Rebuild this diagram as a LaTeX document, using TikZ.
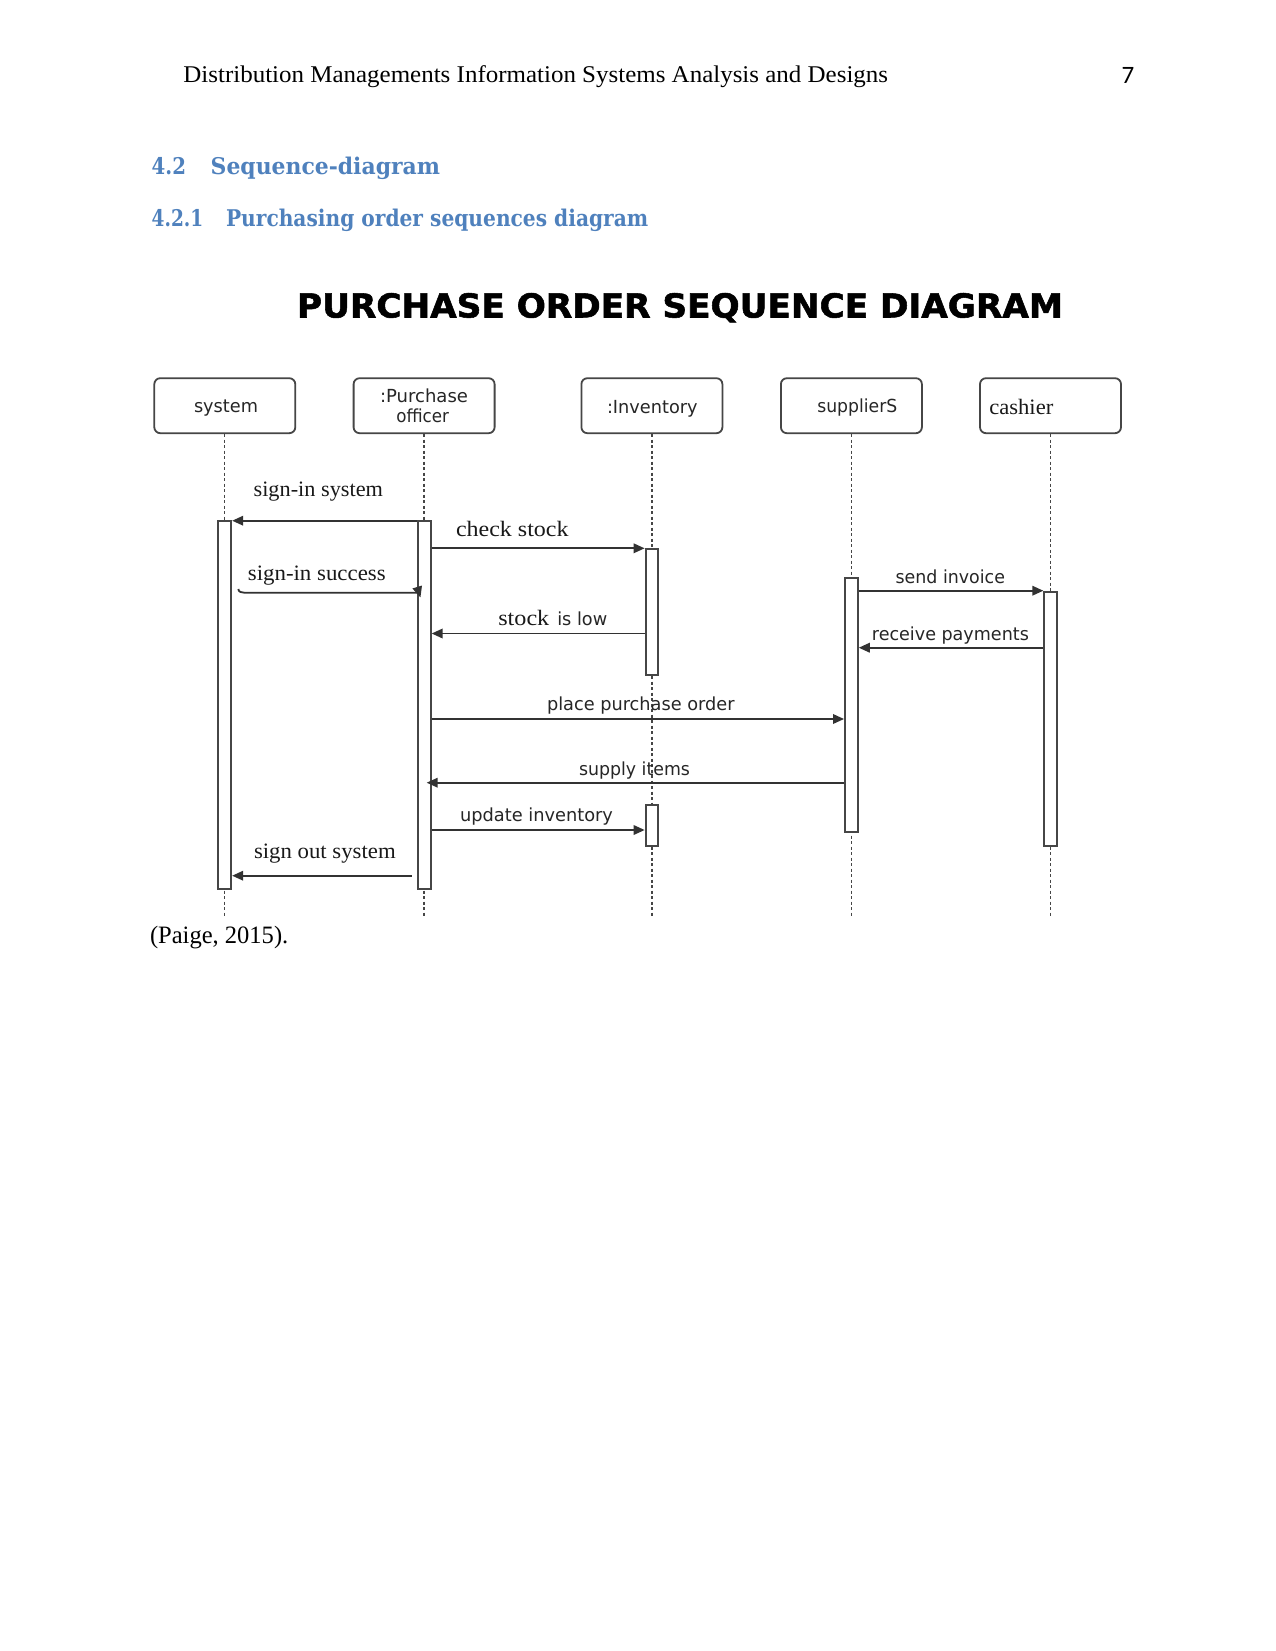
\documentclass[tikz,border=0pt]{standalone}
\usepackage{fontspec}
\usepackage{graphicx}
\usetikzlibrary{arrows.meta,calc}
\setmainfont{Liberation Serif}
\newfontfamily\dvsans{DejaVu Sans}
\newfontfamily\dvserif{DejaVu Serif}
\newfontfamily\titlef[UprightFont={* Bold},FakeBold=1.6]{DejaVu Sans}
\newfontfamily\carl{Carlito}
\definecolor{hblue}{RGB}{79,129,189}
\definecolor{linec}{RGB}{50,50,50}
\definecolor{boxc}{RGB}{70,70,70}
\newcommand\fitw[2]{\resizebox{#1pt}{\height}{#2}}
\begin{document}
\begin{tikzpicture}[x=1pt,y=-1pt,
  lbl/.style={anchor=base west,inner sep=0pt,outer sep=0pt},
  headbox/.style={draw=boxc,line width=1.8pt,rounded corners=6pt,minimum width=141pt,minimum height=55pt,inner sep=0pt},
  actbar/.style={draw=boxc,line width=1.9pt,fill=white,minimum width=12.8pt,inner sep=0pt,anchor=north},
  life/.style={draw=boxc,line width=1.3pt,dash pattern=on 3pt off 2.5pt},
  msg/.style={draw=linec,line width=1.8pt,-{Triangle[length=11pt,width=9.5pt]}},
  sfl/.style={lbl,font=\dvsans\fontsize{18}{20}\selectfont,text=black!85},
  sel/.style={lbl,font=\fontsize{22}{25}\selectfont,text=black!90},
]
\useasboundingbox[fill=white] (0,0) rectangle (1275,1651);

% page header
\node[lbl,font=\fontsize{24}{28}\selectfont] (hdr) at (183.4,83) {\fitw{704.7}{Distribution Managements Information Systems Analysis and Designs}};
\node[lbl,font=\carl\fontsize{25}{28}\selectfont] (pg) at (1121.7,84) {7};

% headings
\node[lbl,font=\dvserif\bfseries\fontsize{23}{26}\selectfont,text=hblue] (h1n) at (151.7,175) {\fitw{34.3}{4.2}};
\node[lbl,font=\dvserif\bfseries\fontsize{23}{26}\selectfont,text=hblue] (h1t) at (210.7,175) {\fitw{229.3}{Sequence-diagram}};
\node[lbl,font=\dvserif\bfseries\fontsize{23}{26}\selectfont,text=hblue] (h2n) at (151.7,226) {\fitw{51.6}{4.2.1}};
\node[lbl,font=\dvserif\bfseries\fontsize{23}{26}\selectfont,text=hblue] (h2t) at (226,226) {\fitw{422.3}{Purchasing order sequences diagram}};

% diagram title
\node[lbl,font=\titlef\fontsize{33}{36}\selectfont] (title) at (297,317.5) {\fitw{766}{PURCHASE ORDER SEQUENCE DIAGRAM}};

% lifeline heads
\node[headbox] (sys)  at (224.8,405.7) {};
\node[headbox] (po)   at (424.1,405.7) {};
\node[headbox] (inv)  at (651.9,405.7) {};
\node[headbox] (sup)  at (851.4,405.7) {};
\node[headbox] (cash) at (1050.5,405.7) {};

\node[sfl] (t1)  at (194,412.7)   {\fitw{64}{system}};
\node[sfl] (t2a) at (380,402)     {\fitw{88}{:Purchase}};
\node[sfl] (t2b) at (396.4,422.7) {\fitw{52.6}{officer}};
\node[sfl] (t3)  at (607,413)     {\fitw{90.6}{:Inventory}};
\node[sfl] (t4)  at (817.3,412.7) {\fitw{80}{supplierS}};
\node[sel] (t5)  at (989.3,414.3) {\fitw{64}{cashier}};

% lifelines
\foreach \n in {sys,po,inv,sup,cash}
  \draw[life] (\n.south) -- ($(\n.south)+(0,482)$);

% activation bars
\node[actbar,minimum height=368] (sysbar)  at (224.8,520) {};
\node[actbar,minimum height=368] (pobar)   at (424.3,520) {};
\node[actbar,minimum height=126]   (inv1)    at (652,548.3) {};
\node[actbar,minimum height=254] (supbar)  at (851.4,576.7) {};
\node[actbar,minimum height=254] (cashbar) at (1050.7,590.7) {};
\node[actbar,minimum height=41]  (inv2)    at (652,804) {};

% messages
\draw[msg] (pobar.west |- 0,520.7) -- (sysbar.east |- 0,520.7);
\draw[msg] (pobar.east |- 0,548.3) -- (inv1.west |- 0,548.3);
\coordinate (s3) at (238.3,589);
\draw[msg] (s3) to[out=-90,in=180] (245,592.8) -- (413,592.8) .. controls (419,592.8) .. ($(pobar.west |- 0,597.5)+(3.5,0)$);
\draw[msg] (inv1.west |- 0,633.5) -- (pobar.east |- 0,633.5);
\draw[msg] (supbar.east |- 0,590.7) -- (cashbar.west |- 0,590.7);
\draw[msg] (cashbar.west |- 0,647.7) -- (supbar.east |- 0,647.7);
\draw[msg] (pobar.east |- 0,719) -- (supbar.west |- 0,719);
\draw[msg] (supbar.west |- 0,782.7) -- ($(pobar.east |- 0,782.7)+(-5,0)$);
\draw[msg] (pobar.east |- 0,830) -- (inv2.west |- 0,830);
\draw[msg] ($(pobar.west |- 0,875.7)+(-5,0)$) -- (sysbar.east |- 0,875.7);

% message labels
\node[sel] (l1)  at (253.6,496)   {\fitw{129.4}{sign-in system}};
\node[sel] (l2)  at (456,536.7)   {\fitw{112.6}{check stock}};
\node[sel] (l3)  at (247.9,580)   {\fitw{137.8}{sign-in success}};
\node[sel] (l4a) at (498.3,625)   {\fitw{51}{stock}};
\node[sfl] (l4b) at (557.3,625)   {\fitw{50}{is low}};
\node[sfl] (l5)  at (895.6,583.3) {\fitw{109.4}{send invoice}};
\node[sfl] (l6)  at (871.9,640)   {\fitw{157}{receive payments}};
\node[sfl] (l7)  at (547,710.7)   {\fitw{187.6}{place purchase order}};
\node[sfl] (l8)  at (579,775)     {\fitw{111}{supply items}};
\node[sfl] (l9)  at (460,821.7)   {\fitw{153}{update inventory}};
\node[sel] (l10) at (254,858.3)   {\fitw{141.7}{sign out system}};

% citation
\node[lbl,font=\fontsize{25}{28}\selectfont] (cite) at (150,943) {\fitw{138.3}{(Paige, 2015).}};
\end{tikzpicture}
\end{document}
